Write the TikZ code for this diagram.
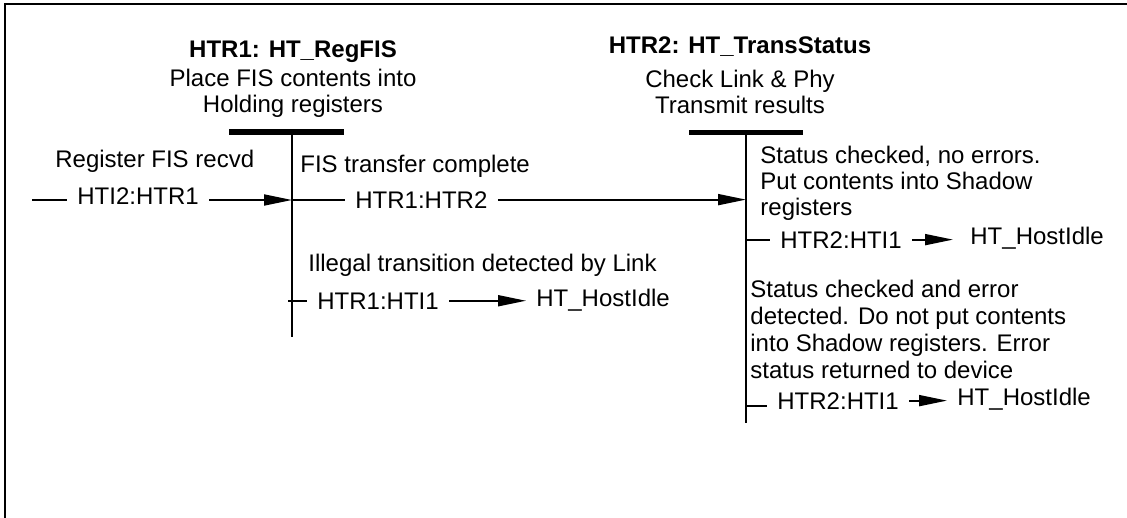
\documentclass[tikz,border=0pt]{standalone}
\usepackage{fontspec}
\setmainfont{Liberation Sans}
\usetikzlibrary{arrows.meta}

\begin{document}
\begin{tikzpicture}[x=0.5pt,y=-0.5pt,
  txt/.style={inner sep=0pt,anchor=base west,font=\fontsize{12}{13.5}\selectfont},
  ttl/.style={inner sep=0pt,anchor=north,align=center,font=\fontsize{12}{13}\selectfont},
  blk/.style={inner sep=0pt,anchor=north west,align=left,font=\fontsize{12}{13}\selectfont},
  tr/.style={inner xsep=5pt,inner ysep=0pt,anchor=base west,font=\fontsize{12}{14}\selectfont},
  bar/.style={line width=2.8pt},
  life/.style={line width=1.2pt},
  con/.style={line width=0.9pt},
  arr/.style={con,-{Triangle[length=14pt,width=5.5pt]}}]

\useasboundingbox (0,0) rectangle (1127,518);
\draw[line width=1.2pt] (5,518) -- (5,4) -- (1127,4);

\node[ttl] (t1) at (293,40) {\textbf{HTR1: HT\_RegFIS}\\[1.5pt]Place FIS contents into\\Holding registers};
\node[ttl] (t2) at (740,36) {\textbf{HTR2: HT\_TransStatus}\\[4pt]Check Link \& Phy\\Transmit results};

\coordinate (s1) at (292,132);
\coordinate (s1e) at (292,337);
\coordinate (s2) at (746,132.5);
\coordinate (s2e) at (746,423);
\draw[bar] (229,132) -- (344,132);
\draw[bar] (689,132.5) -- (803,132.5);
\draw[life] (s1) -- (s1e);
\draw[life] (s2) -- (s2e);

\node[txt] (e1) at (55,168) {Register FIS recvd};
\node[txt] (e2) at (300,172) {FIS transfer complete};
\node[txt] (e3) at (308,271) {Illegal transition detected by Link};
\node[blk] (e4) at (760,146) {Status checked, no errors.\\Put contents into Shadow\\registers};
\node[blk,font=\fontsize{12}{13.5}\selectfont] (e5) at (750,280) {Status checked and error\\detected. Do not put contents\\into Shadow registers. Error\\status returned to device};

\coordinate (c1s) at (32,200);
\node[tr] (c1) at (67,205) {HTI2:HTR1};
\draw[con] (c1s) -- (c1s -| c1.west);
\draw[arr] (c1.east |- c1s) -- (c1s -| s1);

\node[tr] (c2) at (345,208) {HTR1:HTR2};
\draw[con] (s1 |- c2) -- (c2.west);
\draw[arr] (c2.east) -- (c2 -| s2);

\node[tr] (c3) at (307,309) {HTR1:HTI1};
\node[tr] (i1) at (526,306) {HT\_HostIdle};
\draw[con] ([xshift=-2pt]s1 |- c3) -- (c3.west);
\draw[arr] (c3.east) -- (c3.east -| i1.west);

\node[tr] (c4) at (770,248) {HTR2:HTI1};
\node[tr] (i2) at (960,244) {HT\_HostIdle};
\draw[con] (s2 |- c4) -- (c4.west);
\draw[arr,shorten >=3.5pt] (c4.east) -- (c4.east -| i2.west);

\coordinate (c5s) at (747,406);
\node[tr] (c5) at (767,409) {HTR2:HTI1};
\node[tr] (i3) at (947,405) {HT\_HostIdle};
\draw[con] (c5s) -- (c5s -| c5.west);
\draw[arr] (c5.east) -- (c5.east -| i3.west);
\end{tikzpicture}
\end{document}
